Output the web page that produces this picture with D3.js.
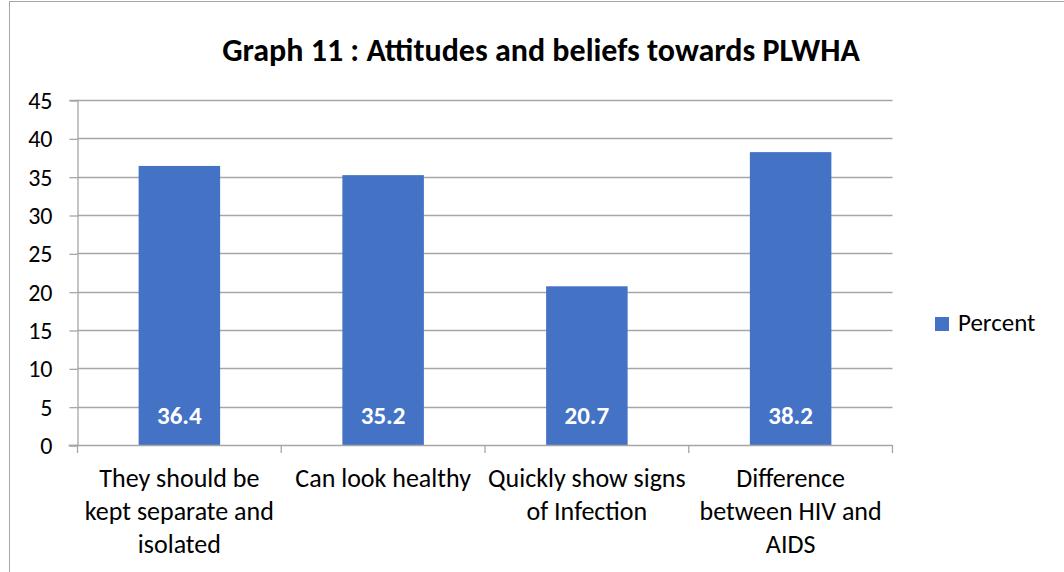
<!DOCTYPE html>
<html>
<head>
<meta charset="utf-8">
<script src="https://cdn.jsdelivr.net/npm/d3@7"></script>
<style>
  html, body { margin: 0; padding: 0; background: #fff; }
  svg { display: block; }
  text { font-family: Carlito, Lato, "Open Sans", sans-serif; }
</style>
</head>
<body>
<svg id="chart" width="1064" height="572"></svg>
<script>
// Chart data
const categories = [
  ["They should be", "kept separate and", "isolated"],
  ["Can look healthy"],
  ["Quickly show signs", "of Infection"],
  ["Difference", "between HIV and", "AIDS"]
];
const percentValues = [36.4, 35.2, 20.7, 38.2];
const yTicks = [0, 5, 10, 15, 20, 25, 30, 35, 40, 45];
const seriesName = "Percent";
const chartTitle = "Graph 11 : Attitudes and beliefs towards PLWHA";

const svg = d3.select("#chart");
const W = 1064, H = 572;
const barColor = "#4472C4";
const gridColor = "#A6A6A6";

// outer chart frame
svg.append("rect")
  .attr("x", 9.5).attr("y", 1.5)
  .attr("width", W + 20).attr("height", H + 20)
  .attr("fill", "#fff").attr("stroke", "#A6A6A6").attr("stroke-width", 1);

const plot = { left: 77.5, right: 892.5, top: 100, bottom: 445 };

const x = d3.scaleBand()
  .domain(d3.range(categories.length))
  .range([plot.left, plot.right])
  .paddingInner(0.6)
  .paddingOuter(0.3);

const y = d3.scaleLinear()
  .domain([0, 45])
  .range([plot.bottom, plot.top]);

// horizontal gridlines
svg.append("g")
  .selectAll("line")
  .data(yTicks.filter(t => t > 0))
  .join("line")
  .attr("x1", plot.left).attr("x2", plot.right)
  .attr("y1", d => Math.round(y(d)) + 0.5)
  .attr("y2", d => Math.round(y(d)) + 0.5)
  .attr("stroke", gridColor).attr("stroke-width", 1.3);

// y axis
const yAxis = d3.axisLeft(y)
  .tickValues(yTicks)
  .tickSize(8)
  .tickPadding(17)
  .tickFormat(d3.format("d"));
const gy = svg.append("g")
  .attr("transform", `translate(${plot.left},0)`)
  .call(yAxis);
gy.select(".domain").attr("stroke", gridColor).attr("stroke-width", 1.3);
gy.selectAll(".tick line").attr("stroke", gridColor).attr("stroke-width", 1.3)
  .attr("transform", "translate(0,0.5)");
gy.selectAll(".tick text")
  .attr("fill", "#000")
  .style("font-size", "24px")
  .attr("dy", "0.36em");

// bars
svg.append("g")
  .selectAll("rect")
  .data(percentValues)
  .join("rect")
  .attr("x", (d, i) => x(i))
  .attr("width", x.bandwidth())
  .attr("y", d => y(d))
  .attr("height", d => y(0) - y(d))
  .attr("fill", barColor);

// x axis line with tick marks at category boundaries
const step = x.step();
const boundaries = d3.range(categories.length + 1).map(i => plot.left + i * step);
const gx = svg.append("g");
gx.append("line")
  .attr("x1", plot.left - 9).attr("x2", plot.right)
  .attr("y1", y(0) + 0.5).attr("y2", y(0) + 0.5)
  .attr("stroke", gridColor).attr("stroke-width", 1.3);
gx.selectAll("line.tick")
  .data(boundaries)
  .join("line")
  .attr("class", "tick")
  .attr("x1", d => d).attr("x2", d => d)
  .attr("y1", y(0)).attr("y2", y(0) + 8)
  .attr("stroke", gridColor).attr("stroke-width", 1.3);

// category labels
const catG = svg.append("g");
categories.forEach((lines, i) => {
  const t = catG.append("text")
    .attr("text-anchor", "middle")
    .attr("fill", "#000")
    .style("font-size", "26px");
  lines.forEach((ln, j) => {
    t.append("tspan")
      .attr("x", x(i) + x.bandwidth() / 2)
      .attr("y", 487 + j * 33)
      .text(ln);
  });
});

// value labels inside bar bases
svg.append("g")
  .selectAll("text")
  .data(percentValues)
  .join("text")
  .attr("x", (d, i) => x(i) + x.bandwidth() / 2)
  .attr("y", y(0) - 21)
  .attr("text-anchor", "middle")
  .attr("fill", "#fff")
  .style("font-size", "25px")
  .style("font-weight", "bold")
  .text(d => d.toFixed(1));

// title
svg.append("text")
  .attr("x", 541).attr("y", 61)
  .attr("text-anchor", "middle")
  .attr("fill", "#000")
  .style("font-size", "32px")
  .style("font-weight", "bold")
  .text(chartTitle);

// legend
const lg = svg.append("g").attr("transform", "translate(935,317)");
lg.append("rect").attr("width", 14).attr("height", 14).attr("fill", barColor);
lg.append("text")
  .attr("x", 23).attr("y", 14)
  .attr("fill", "#000")
  .style("font-size", "25px")
  .text(seriesName);
</script>
</body>
</html>
